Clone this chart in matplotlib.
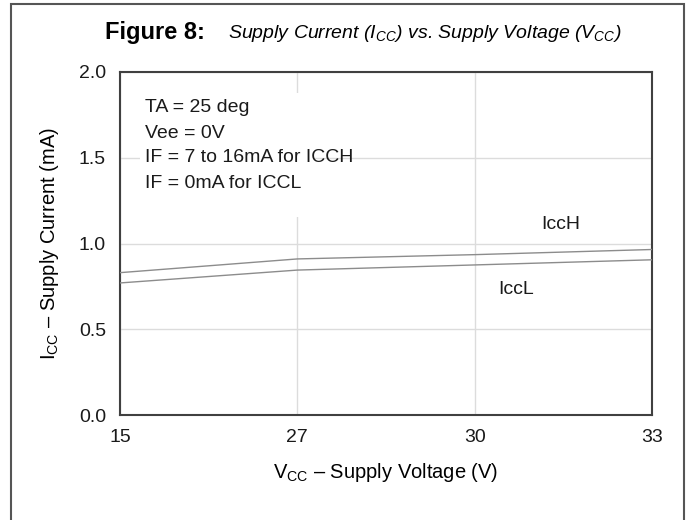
import matplotlib.pyplot as plt
from matplotlib.patches import Rectangle

plt.rcParams['font.family'] = ['Liberation Sans', 'DejaVu Sans']
plt.rcParams['mathtext.fontset'] = 'custom'
plt.rcParams['mathtext.rm'] = 'Liberation Sans'
plt.rcParams['mathtext.it'] = 'Liberation Sans:italic'
plt.rcParams['mathtext.bf'] = 'Liberation Sans:bold'

# supply voltage categories (equally spaced on the chart)
vcc_labels = ["15", "27", "30", "33"]
icc_high = [0.83, 0.91, 0.935, 0.965]
icc_low = [0.77, 0.845, 0.875, 0.905]
y_ticks = [0.0, 0.5, 1.0, 1.5, 2.0]
notes = ["TA = 25 deg", "Vee = 0V", "IF = 7 to 16mA for ICCH", "IF = 0mA for ICCL"]

fig = plt.figure(figsize=(6.88, 5.2), dpi=100)
ax = fig.add_axes([120 / 688, 1 - 415 / 520, 532 / 688, 343 / 520])

x = list(range(len(vcc_labels)))
ax.plot(x, icc_high, color='#8c8c8c', lw=1.0, zorder=3)
ax.plot(x, icc_low, color='#8c8c8c', lw=1.0, zorder=3)

ax.set_xlim(0, len(vcc_labels) - 1)
ax.set_ylim(0, 2.0)
ax.set_xticks(x)
ax.set_xticklabels(vcc_labels)
ax.set_yticks(y_ticks)
ax.set_yticklabels([f"{v:.1f}" for v in y_ticks])
ax.tick_params(length=0, labelsize=14, colors='#1a1a1a')
ax.tick_params(axis='x', pad=10)
ax.tick_params(axis='y', pad=10)
ax.grid(True, color='#dcdcdc', lw=1.0, zorder=0)
for s in ax.spines.values():
    s.set_color('#404040')
    s.set_linewidth(1.5)

ax.set_xlabel(r"$\mathregular{V_{CC}}$ – Supply Voltage (V)", fontsize=14.5)
ax.set_ylabel(r"$\mathregular{I_{CC}}$ – Supply Current (mA)", fontsize=14.5)
ax.xaxis.label.set_va('center')
ax.yaxis.label.set_va('center')
ax.xaxis.set_label_coords(0.5, (415 - 472) / 343)
ax.yaxis.set_label_coords((50 - 120) / 532, 0.5)

# white note box covering the grid at the top-left
ax.add_patch(Rectangle((20 / 177.3, (415 - 217) / 171.5), 175 / 177.3, 124 / 171.5,
                       facecolor='white', edgecolor='none', zorder=2))
for i, line in enumerate(notes):
    ax.text(25 / 177.3, (415 - 108 - 25 * i) / 171.5, line, fontsize=14, va='center',
            ha='left', zorder=4, color='#1a1a1a')

ax.text(2.487, 1.111, "IccH", fontsize=14, ha='center', va='center', color='#1a1a1a')
ax.text(2.233, 0.731, "IccL", fontsize=14, ha='center', va='center', color='#1a1a1a')

# title
fig.text(205 / 688, 1 - 33 / 520, "Figure 8:", fontsize=17, fontweight='bold',
         ha='right', va='center')
fig.text(621 / 688, 1 - 33 / 520,
         r"Supply Current ($I_{CC}$) vs. Supply Voltage ($V_{CC}$)",
         fontsize=14, fontstyle='italic', ha='right', va='center')

# figure frame
fig.patches.append(Rectangle((11 / 688, -0.05), 673 / 688, 1 - 4 / 520 + 0.05,
                             transform=fig.transFigure, fill=False,
                             edgecolor='#555555', lw=1.5))

fig.savefig("out.png", dpi=100)
plt.close(fig)
